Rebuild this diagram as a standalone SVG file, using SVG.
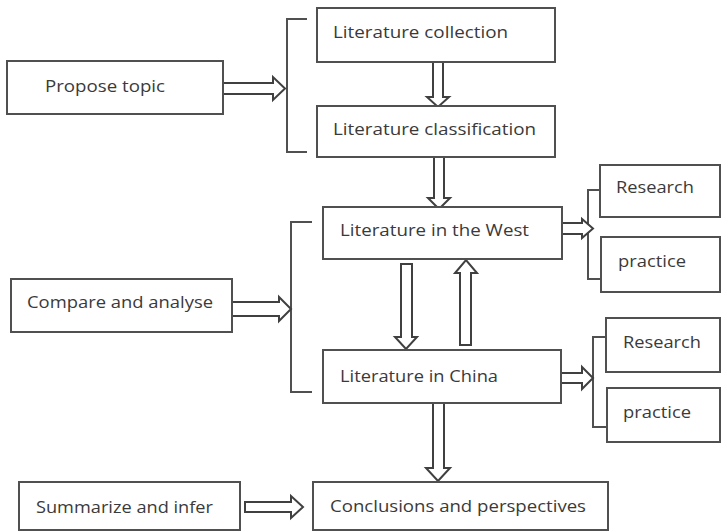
<svg xmlns="http://www.w3.org/2000/svg" width="722" height="532" viewBox="0 0 722 532">
<style>
.box{fill:#fff;stroke:#505050;stroke-width:2}
.t{font-family:"Open Sans","Noto Sans",sans-serif;font-size:17px;fill:#3a3a3a}
.br{fill:none;stroke:#505050;stroke-width:2}
.ar{fill:#fff;stroke:#404040;stroke-width:2;stroke-linejoin:miter}
</style>
<rect width="722" height="532" fill="#fff"/>
<g id="connectors">
<path class="br" d="M307,19 H287 V152 H307"/>
<path class="br" d="M312,222 H291 V392 H312"/>
<path class="br" d="M600,190 H588 V279 H600"/>
<path class="br" d="M606,337 H593 V427 H606"/>
<polygon class="ar" points="223,83 273,83 273,77 285,88.5 273,100 273,94 223,94"/>
<polygon class="ar" points="232,302 279,302 279,297 291,309 279,321 279,316 232,316"/>
<polygon class="ar" points="245,502 291,502 291,496 303,507 291,518 291,512 245,512"/>
<polygon class="ar" points="562,223 582,223 582,219 593,228.5 582,238 582,234 562,234"/>
<polygon class="ar" points="561,373 582,373 582,367 593,378 582,389 582,383 561,383"/>
<polygon class="ar" points="433,62 443,62 443,97 449,97 438,107 427,97 433,97"/>
<polygon class="ar" points="434,157 444,157 444,198 450,198 439,209 428,198 434,198"/>
<polygon class="ar" points="401,264 412,264 412,337 417,337 406,349 395,337 401,337"/>
<polygon class="ar" points="460,345 471,345 471,273 477,273 466,260 455,273 460,273"/>
<polygon class="ar" points="433,403 444,403 444,468 450,468 438,481 426,468 433,468"/>
</g>
<g id="propose"><rect class="box" x="7" y="61" width="216" height="53"/><text class="t" x="45" y="92" textLength="120" lengthAdjust="spacingAndGlyphs">Propose topic</text></g>
<g id="collection"><rect class="box" x="317" y="8" width="238" height="54"/><text class="t" x="333" y="38" textLength="175" lengthAdjust="spacingAndGlyphs">Literature collection</text></g>
<g id="classification"><rect class="box" x="317" y="106" width="238" height="51"/><text class="t" x="333" y="135" textLength="203" lengthAdjust="spacingAndGlyphs">Literature classification</text></g>
<g id="west"><rect class="box" x="323" y="207" width="239" height="52"/><text class="t" x="340" y="236" textLength="189" lengthAdjust="spacingAndGlyphs">Literature in the West</text></g>
<g id="research1"><rect class="box" x="600" y="165" width="120" height="52"/><text class="t" x="616" y="193" textLength="78" lengthAdjust="spacingAndGlyphs">Research</text></g>
<g id="practice1"><rect class="box" x="601" y="237" width="119" height="55"/><text class="t" x="618" y="267" textLength="68" lengthAdjust="spacingAndGlyphs">practice</text></g>
<g id="compare"><rect class="box" x="11" y="279" width="221" height="53"/><text class="t" x="27" y="308" textLength="186" lengthAdjust="spacingAndGlyphs">Compare and analyse</text></g>
<g id="china"><rect class="box" x="323" y="350" width="238" height="53"/><text class="t" x="340" y="382" textLength="158" lengthAdjust="spacingAndGlyphs">Literature in China</text></g>
<g id="research2"><rect class="box" x="606" y="318" width="114" height="54"/><text class="t" x="623" y="348" textLength="78" lengthAdjust="spacingAndGlyphs">Research</text></g>
<g id="practice2"><rect class="box" x="607" y="388" width="113" height="54"/><text class="t" x="623" y="418" textLength="68" lengthAdjust="spacingAndGlyphs">practice</text></g>
<g id="summarize"><rect class="box" x="19" y="482" width="221" height="48"/><text class="t" x="36" y="513" textLength="177" lengthAdjust="spacingAndGlyphs">Summarize and infer</text></g>
<g id="conclusions"><rect class="box" x="313" y="482" width="295" height="48"/><text class="t" x="330" y="512" textLength="256" lengthAdjust="spacingAndGlyphs">Conclusions and perspectives</text></g>
</svg>
